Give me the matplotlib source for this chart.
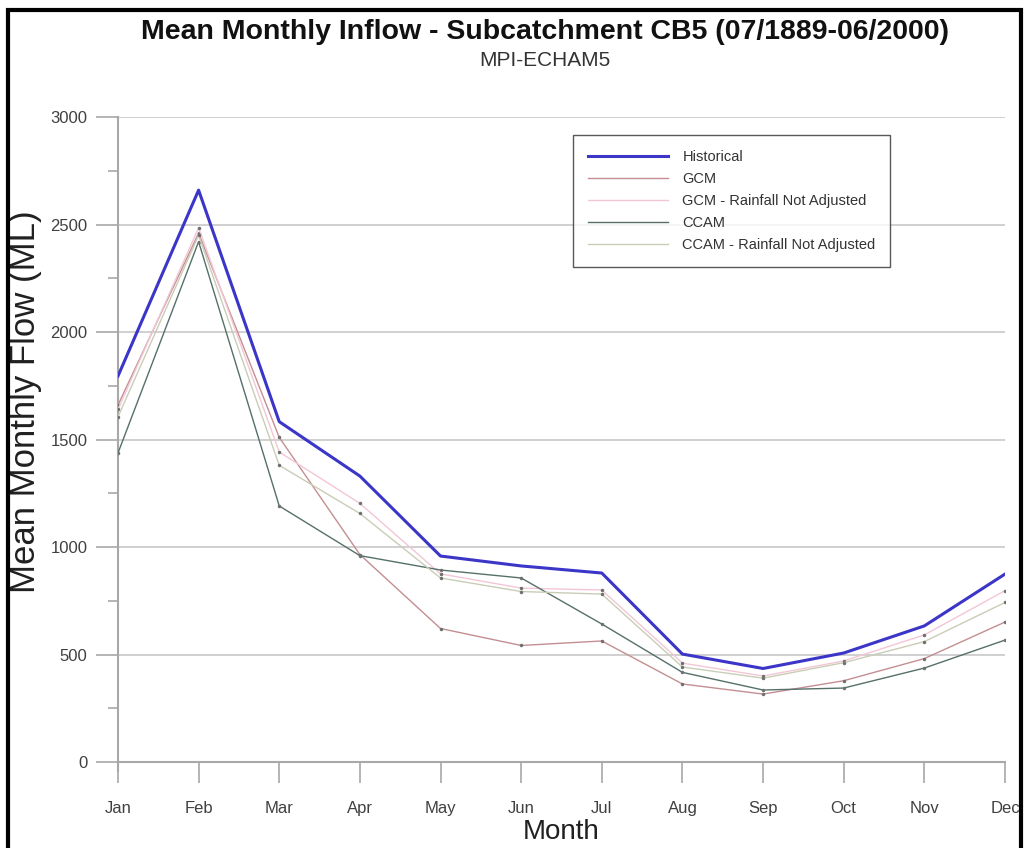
import matplotlib
matplotlib.use("Agg")
import matplotlib.pyplot as plt
from matplotlib.patches import Rectangle

plt.rcParams['font.family'] = ['Liberation Sans', 'DejaVu Sans']

months = ["Jan", "Feb", "Mar", "Apr", "May", "Jun", "Jul", "Aug", "Sep", "Oct", "Nov", "Dec"]

historical = [1795, 2660, 1583, 1330, 958, 912, 879, 502, 435, 507, 633, 874]
gcm = [1660, 2460, 1510, 965, 621, 542, 563, 363, 316, 378, 481, 651]
gcm_rna = [1640, 2485, 1442, 1203, 875, 809, 800, 460, 400, 470, 591, 797]
ccam = [1437, 2420, 1191, 960, 893, 856, 642, 417, 335, 344, 437, 567]
ccam_rna = [1605, 2450, 1380, 1156, 856, 793, 781, 442, 390, 462, 560, 742]

series = [
    ("Historical", historical, "#3b35c8", 2.2),
    ("GCM", gcm, "#c48e92", 1.0),
    ("GCM - Rainfall Not Adjusted", gcm_rna, "#f3c6d6", 1.0),
    ("CCAM", ccam, "#55706a", 1.0),
    ("CCAM - Rainfall Not Adjusted", ccam_rna, "#c9cdb6", 1.0),
]

fig = plt.figure(figsize=(10.24, 8.48), dpi=100)
ax = fig.add_axes([0.1152, 0.1014, 0.8662, 0.7606])

x = list(range(len(months)))
for label, vals, color, lw in series:
    ax.plot(x, vals, color=color, lw=lw, label=label, zorder=3,
            marker='o', markersize=1.5 if lw < 2 else 0,
            markerfacecolor="#707070", markeredgecolor="#707070")

ax.set_xlim(0, 11)
ax.set_ylim(0, 3000)
ax.set_xticks(x)
ax.set_xticklabels(months)
ax.set_yticks(range(0, 3001, 500))
ax.set_yticks(range(250, 3000, 500), minor=True)

ax.grid(axis='y', which='major', color='#c8c8c8', lw=1.2, zorder=0)
for side in ('top', 'right'):
    ax.spines[side].set_visible(False)
for side in ('left', 'bottom'):
    ax.spines[side].set_color('#a8a8a8')
    ax.spines[side].set_linewidth(1.5)
ax.spines['left'].set_bounds(-40, 3000)

ax.tick_params(axis='y', which='major', length=16, color='#a8a8a8', width=1.2,
               labelsize=12, labelcolor='#404040', pad=6)
ax.tick_params(axis='y', which='minor', length=7, color='#a8a8a8', width=1.2)
ax.tick_params(axis='x', which='major', length=15, color='#a8a8a8', width=1.2,
               labelsize=12, labelcolor='#404040', pad=13)

ax.set_xlabel("Month", fontsize=20, color='#202020', va='top')
ax.xaxis.set_label_coords(0.5, -0.088)
ax.set_ylabel("Mean Monthly Flow (ML)", fontsize=25, color='#202020')
ax.yaxis.set_label_coords(-0.086, 0.558)

fig.text(0.532, 0.962, "Mean Monthly Inflow - Subcatchment CB5 (07/1889-06/2000)",
         ha='center', va='center', fontsize=20.5, fontweight='bold', color='#111111')
fig.text(0.532, 0.929, "MPI-ECHAM5", ha='center', va='center',
         fontsize=15, color='#333333')

leg = ax.legend(loc='upper left', bbox_to_anchor=(0.513, 0.972), fontsize=10.5,
                frameon=True, fancybox=False, edgecolor='#303030',
                handlelength=5.5, handletextpad=1.0, labelspacing=0.56,
                borderpad=1.0, borderaxespad=0)
leg.get_frame().set_linewidth(1.0)
for h in leg.legend_handles:
    h.set_marker('')
for t in leg.get_texts():
    t.set_color('#333333')

fig.patches.append(Rectangle((8 / 1024, -0.05), (1021 - 8) / 1024, 1 - 10 / 848 + 0.05,
                             transform=fig.transFigure, fill=False,
                             edgecolor='black', lw=3, zorder=10))

fig.savefig("out.png", dpi=100, facecolor='white')
